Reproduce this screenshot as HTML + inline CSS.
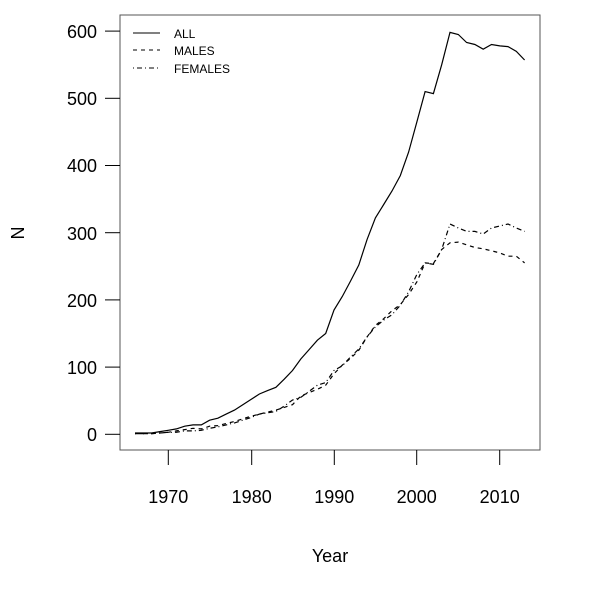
<!DOCTYPE html>
<html><head><style>
body{margin:0;background:#fff}
svg{display:block}
text{font-family:"Liberation Sans",sans-serif;fill:#000}
</style></head><body>
<svg id="s" width="600" height="600" xmlns="http://www.w3.org/2000/svg">
<rect x="120" y="15" width="420" height="435" fill="none" stroke="#555" stroke-width="1"/>
<g stroke="#000" stroke-width="1">
<line x1="168.3" y1="450" x2="168.3" y2="465"/><line x1="251.7" y1="450" x2="251.7" y2="465"/>
<line x1="334.3" y1="450" x2="334.3" y2="465"/><line x1="416.7" y1="450" x2="416.7" y2="465"/>
<line x1="499.7" y1="450" x2="499.7" y2="465"/>
<line x1="105" y1="434.3" x2="120" y2="434.3"/><line x1="105" y1="367.1" x2="120" y2="367.1"/>
<line x1="105" y1="299.9" x2="120" y2="299.9"/><line x1="105" y1="232.7" x2="120" y2="232.7"/>
<line x1="105" y1="165.5" x2="120" y2="165.5"/><line x1="105" y1="98.3" x2="120" y2="98.3"/>
<line x1="105" y1="31.1" x2="120" y2="31.1"/>
</g>
<g font-size="18" text-anchor="middle">
<text x="168.3" y="503">1970</text><text x="251.7" y="503">1980</text><text x="334.3" y="503">1990</text>
<text x="416.7" y="503">2000</text><text x="499.7" y="503">2010</text>
</g>
<g font-size="18" text-anchor="end">
<text x="97" y="441">0</text><text x="97" y="374">100</text><text x="97" y="307">200</text>
<text x="97" y="240">300</text><text x="97" y="172">400</text><text x="97" y="105">500</text><text x="97" y="38">600</text>
</g>
<text x="330" y="562" font-size="18" text-anchor="middle">Year</text>
<text x="0" y="0" font-size="18" text-anchor="middle" transform="translate(24,233) rotate(-90)">N</text>
<g stroke="#000" stroke-width="1">
<line x1="133" y1="33" x2="160" y2="33"/>
<line x1="133" y1="50" x2="160" y2="50" stroke-dasharray="4,4"/>
<line x1="133" y1="68" x2="160" y2="68" stroke-dasharray="1,3,5,3"/>
</g>
<g font-size="12">
<text x="174" y="38">ALL</text><text x="174" y="55">MALES</text><text x="174" y="73">FEMALES</text>
</g>
<g id="lines" fill="none" stroke="#000" stroke-width="1.2"></g>
</svg>
<script>
var all=[2,2,2,4,6,8,12,14,14,21,24,30,36,44,52,60,65,70,82,95,112,126,140,150,185,205,228,252,290,322,342,362,385,420,465,510,507,550,598,595,583,580,573,580,578,577,570,557];
var m=[1,1,1,2,3,5,7,9,8,12,13,16,19,23,27,30,33,36,40,44,57,62,67,73,90,103,113,125,145,162,172,184,193,208,227,255,254,275,285,286,282,278,276,273,270,265,265,255];
var f=[1,1,1,2,3,3,5,5,6,9,11,14,17,21,25,30,32,34,42,51,55,64,73,77,95,102,115,127,145,160,170,178,192,212,238,255,253,275,313,307,302,302,298,307,310,313,307,302];
function pts(a){return a.map(function(v,i){return (135+i*8.29).toFixed(1)+","+(434.3-v*0.672).toFixed(1)}).join(" ")}
var g=document.getElementById("lines");
g.innerHTML='<polyline points="'+pts(all)+'"/><polyline stroke-dasharray="4,4" points="'+pts(m)+'"/><polyline stroke-dasharray="1,3,5,3" points="'+pts(f)+'"/>';
</script>
</body></html>
